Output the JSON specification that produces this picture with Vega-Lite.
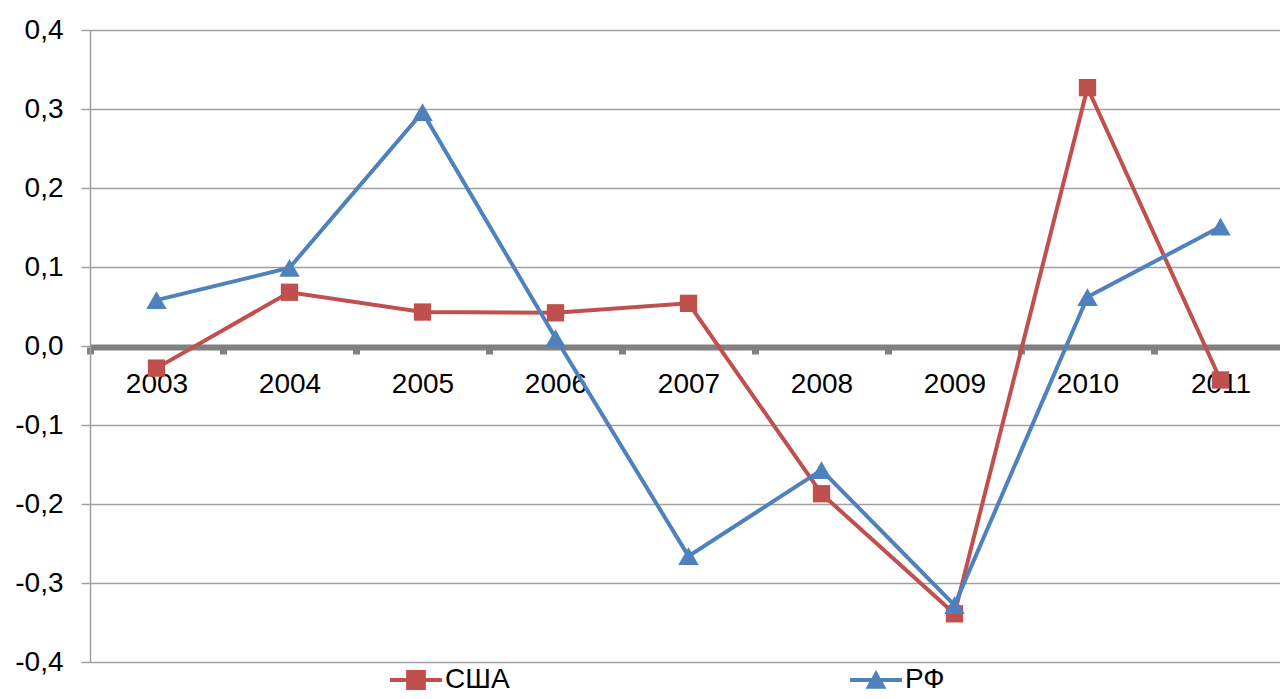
{
  "$schema": "https://vega.github.io/schema/vega-lite/v6.json",
  "width": 1197,
  "height": 632,
  "autosize": {"type": "none"},
  "padding": {"left": 90, "top": 30, "right": 0, "bottom": 37},
  "background": "white",
  "config": {
    "font": "Liberation Sans",
    "view": {"stroke": null}
  },
  "data": {
    "values": [
      {"year": "2003", "series": "США", "value": -0.028},
      {"year": "2004", "series": "США", "value": 0.068},
      {"year": "2005", "series": "США", "value": 0.043},
      {"year": "2006", "series": "США", "value": 0.042},
      {"year": "2007", "series": "США", "value": 0.054},
      {"year": "2008", "series": "США", "value": -0.187},
      {"year": "2009", "series": "США", "value": -0.339},
      {"year": "2010", "series": "США", "value": 0.327},
      {"year": "2011", "series": "США", "value": -0.043},
      {"year": "2003", "series": "РФ", "value": 0.058},
      {"year": "2004", "series": "РФ", "value": 0.099},
      {"year": "2005", "series": "РФ", "value": 0.296},
      {"year": "2006", "series": "РФ", "value": 0.010},
      {"year": "2007", "series": "РФ", "value": -0.266},
      {"year": "2008", "series": "РФ", "value": -0.157},
      {"year": "2009", "series": "РФ", "value": -0.328},
      {"year": "2010", "series": "РФ", "value": 0.062},
      {"year": "2011", "series": "РФ", "value": 0.151}
    ]
  },
  "encoding": {
    "x": {
      "field": "year",
      "type": "ordinal",
      "scale": {"type": "band", "paddingInner": 0, "paddingOuter": 0},
      "axis": {
        "title": null,
        "offset": -315,
        "labelAngle": 0,
        "labelFontSize": 28,
        "labelColor": "black",
        "domainColor": "#808080",
        "domainWidth": 6,
        "tickBand": "extent",
        "tickColor": "#808080",
        "tickWidth": 7,
        "tickSize": 7,
        "labelPadding": 16,
        "grid": false
      }
    },
    "y": {
      "field": "value",
      "type": "quantitative",
      "scale": {"domain": [-0.4, 0.4], "nice": false, "zero": false},
      "axis": {
        "title": null,
        "values": [-0.4, -0.3, -0.2, -0.1, 0, 0.1, 0.2, 0.3, 0.4],
        "labelExpr": "replace(replace(format(datum.value, '.1f'), '.', ','), '\u2212', '-')",
        "labelFontSize": 28,
        "labelColor": "black",
        "labelPadding": 18,
        "tickColor": "#A0A0A0",
        "tickSize": 9,
        "tickWidth": 1.5,
        "domainColor": "#A0A0A0",
        "domainWidth": 1.5,
        "grid": true,
        "gridColor": "#A0A0A0",
        "gridWidth": 1.5
      }
    },
    "color": {
      "field": "series",
      "type": "nominal",
      "scale": {"domain": ["США", "РФ"], "range": ["#C0504D", "#4F81BD"]},
      "legend": {
        "title": null,
        "orient": "none",
        "legendX": 300,
        "legendY": 624,
        "direction": "horizontal",
        "symbolSize": 2704,
        "symbolType": "M-1,-0.08H1V0.08H-1Z",
        "symbolStrokeWidth": 0,
        "symbolOpacity": 1,
        "labelFontSize": 28,
        "labelColor": "black",
        "labelOffset": 3,
        "columnPadding": 340,
        "encode": {
          "symbols": {
            "update": {
              "shape": {"signal": "datum.value === 'США' ? 'M-1,-0.08H1V0.08H-1Z M-0.38,-0.38H0.38V0.38H-0.38Z' : 'M-1,-0.08H1V0.08H-1Z M0,-0.38L0.4,0.34H-0.4Z'"},
              "fill": {"signal": "datum.value === 'США' ? '#C0504D' : '#4F81BD'"},
              "strokeWidth": {"value": 0},
              "size": {"value": 2704}
            }
          }
        }
      }
    }
  },
  "layer": [
    {
      "mark": {"type": "line", "strokeWidth": 4},
      "encoding": {"detail": {"field": "series"}}
    },
    {
      "transform": [{"filter": "datum.series === 'США'"}],
      "mark": {"type": "point", "filled": true, "opacity": 1, "shape": "square", "size": 300}
    },
    {
      "transform": [{"filter": "datum.series === 'РФ'"}],
      "mark": {"type": "point", "filled": true, "opacity": 1, "shape": "triangle-up", "size": 420}
    }
  ]
}
